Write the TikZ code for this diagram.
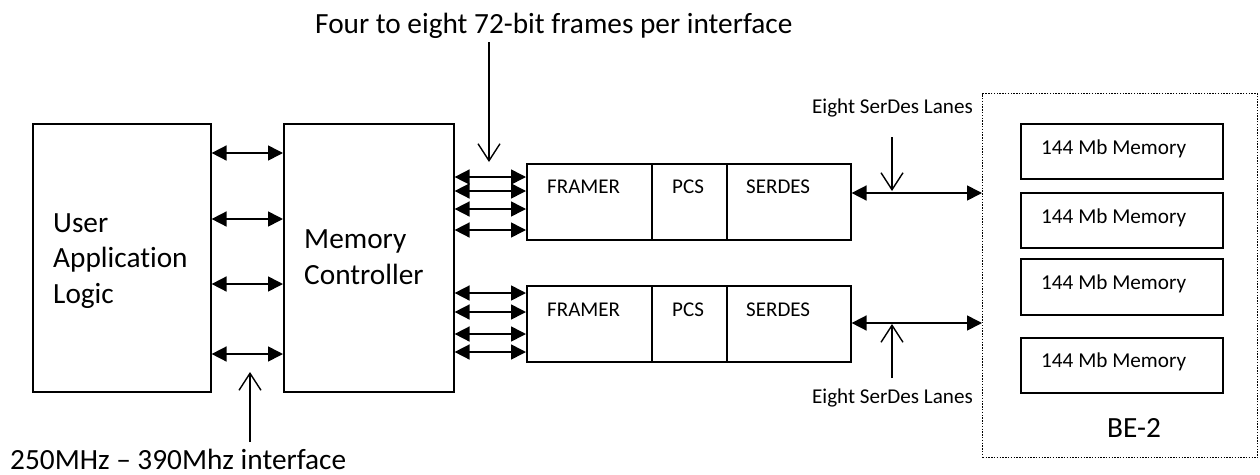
\documentclass[tikz,border=0pt]{standalone}
\usepackage{fontspec}
\setmainfont{Carlito}[Ligatures=NoCommon]
\usetikzlibrary{arrows.meta}
\begin{document}
\begin{tikzpicture}[x=1pt,y=-1pt,
  box/.style={draw, line width=1.6pt, inner sep=0pt, anchor=north west},
  dotbox/.style={draw, line width=1.4pt, dash pattern=on 1.4pt off 1.4pt, inner sep=0pt, anchor=north west},
  bi/.style={line width=1.6pt, {Triangle[length=15pt,width=15pt]}-{Triangle[length=15pt,width=15pt]}},
  ptr/.style={line width=1.4pt, -{Straight Barb[length=17pt,width=22pt,line width=1.4pt]}},
  big/.style={inner sep=0pt, font=\fontsize{29.3}{35.5}\selectfont},
  mid/.style={inner sep=0pt, font=\fontsize{21}{25}\selectfont},
  small/.style={inner sep=0pt, font=\fontsize{21.1}{25}\selectfont},
  mem/.style={inner sep=0pt, font=\fontsize{21.2}{25}\selectfont}]
\useasboundingbox (0,0) rectangle (1260,474);

% main boxes
\node[box, minimum width=178pt, minimum height=268pt] (ual) at (32,123) {};
\node[box, minimum width=170pt, minimum height=268pt] (mc) at (283,123) {};
\node[big, anchor=base west, align=left] (ualt) at (53,303) {User\\Application\\Logic};
\node[big, anchor=base west, align=left] (mct) at (304,284) {Memory\\Controller};

% framer rows
\node[box, minimum width=125pt, minimum height=76pt] (fr1) at (526,163) {};
\node[box, minimum width=75pt, minimum height=76pt] (pcs1) at (651,163) {};
\node[box, minimum width=124pt, minimum height=76pt] (sd1) at (726,163) {};
\node[box, minimum width=125pt, minimum height=76pt] (fr2) at (526,285) {};
\node[box, minimum width=75pt, minimum height=76pt] (pcs2) at (651,285) {};
\node[box, minimum width=124pt, minimum height=76pt] (sd2) at (726,285) {};
\node[mid, anchor=base west] (fr1t) at (547,193) {FRAMER};
\node[mid, anchor=base west] (pcs1t) at (672,193) {PCS};
\node[mid, anchor=base west] (sd1t) at (746,193) {SERDES};
\node[mid, anchor=base west] (fr2t) at (547,316) {FRAMER};
\node[mid, anchor=base west] (pcs2t) at (672,316) {PCS};
\node[mid, anchor=base west] (sd2t) at (746,316) {SERDES};

% BE-2
\node[dotbox, minimum width=275pt, minimum height=364pt] (be) at (982,93) {};
\node[box, minimum width=202pt, minimum height=55pt] (m1) at (1020,123) {};
\node[box, minimum width=202pt, minimum height=55pt] (m2) at (1020,192) {};
\node[box, minimum width=202pt, minimum height=56pt] (m3) at (1020,258) {};
\node[box, minimum width=202pt, minimum height=55pt] (m4) at (1020,337) {};
\node[mem, anchor=base west] (m1t) at (1041,154) {144 Mb Memory};
\node[mem, anchor=base west] (m2t) at (1041,223) {144 Mb Memory};
\node[mem, anchor=base west] (m3t) at (1041,289) {144 Mb Memory};
\node[mem, anchor=base west] (m4t) at (1041,367) {144 Mb Memory};
\node[big, anchor=base] (bet) at (1134,437) {BE-2};

% UAL <-> MC
\foreach \y in {153,219,284,354} \draw[bi] (ual.east |- 0,\y) -- (mc.west |- 0,\y);
% MC <-> framers
\foreach \y in {177,191,209,230,293,312,334,352} \draw[bi] (mc.east |- 0,\y) -- (fr1.west |- 0,\y);
% SERDES <-> BE-2
\draw[bi] (sd1.east |- 0,193) -- (be.west |- 0,193);
\draw[bi] (sd2.east |- 0,323) -- (be.west |- 0,323);

% labels and pointers
\node[big, anchor=base west] (ft) at (315,33) {Four to eight 72-bit frames per interface};
\coordinate (fa) at (489,42);
\coordinate (fb) at (489,162);
\draw[ptr] (fa) -- (fb);

\node[big, anchor=base west] (it) at (10,469) {250MHz – 390Mhz interface};
\coordinate (ia) at (250,442);
\coordinate (ib) at (250,372);
\draw[ptr] (ia) -- (ib);

\node[small, anchor=base east] (s1t) at (973,113) {Eight SerDes Lanes};
\coordinate (sa) at (892,137);
\coordinate (sb) at (892,191);
\draw[ptr] (sa) -- (sb);

\node[small, anchor=base east] (s2t) at (973,403) {Eight SerDes Lanes};
\coordinate (sc) at (892,378);
\coordinate (sd) at (892,324);
\draw[ptr] (sc) -- (sd);
\end{tikzpicture}
\end{document}
